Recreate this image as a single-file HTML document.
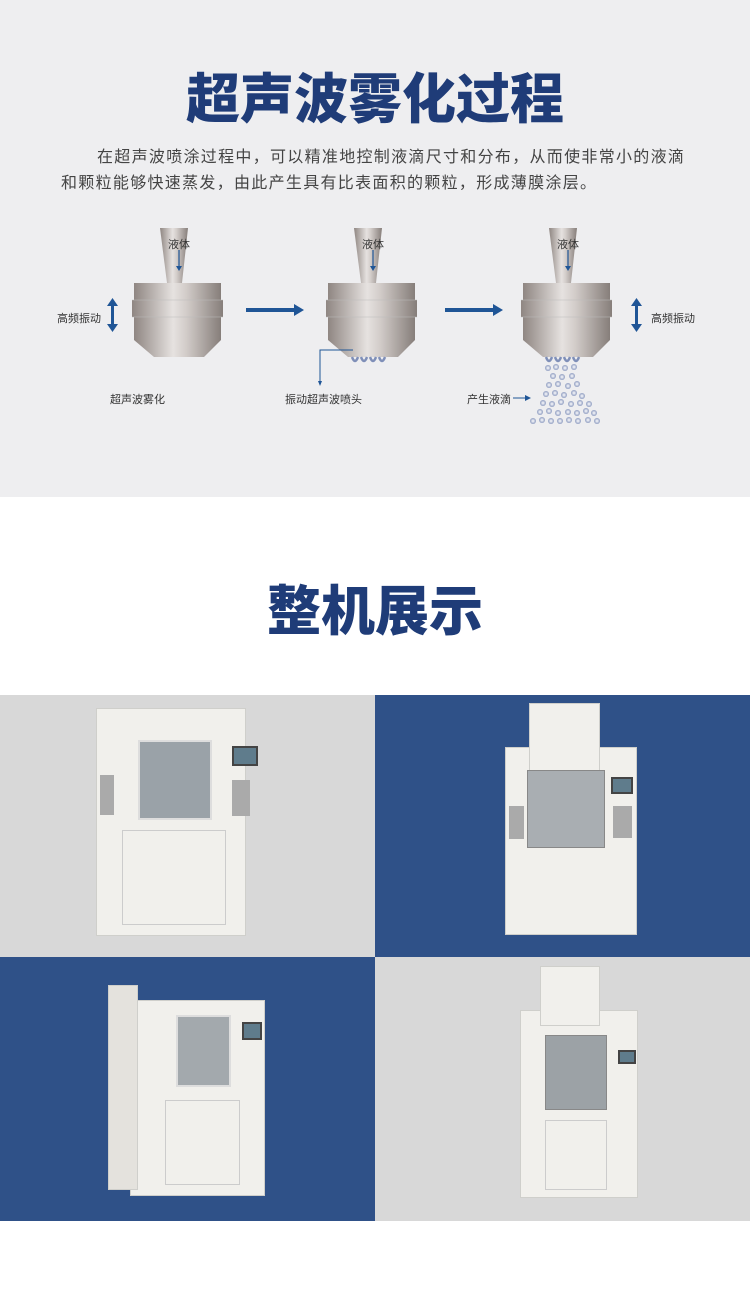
<!DOCTYPE html>
<html><head><meta charset="utf-8"><style>
*{margin:0;padding:0;box-sizing:border-box}
body{width:750px;height:1303px;position:relative;background:#fff;font-family:"Liberation Sans","Noto Sans CJK SC",sans-serif;overflow:hidden}
.a{position:absolute}
.top{left:0;top:0;width:750px;height:497px;background:#eeeef0}
h1{position:absolute;width:750px;text-align:center;color:#1f3c78;font-weight:900;font-size:54px;letter-spacing:0px;font-family:"Noto Sans CJK SC",sans-serif}
.p{left:61px;width:680px;font-size:16px;letter-spacing:1.3px;color:#444;line-height:26px;white-space:nowrap}
.lb{font-size:11px;color:#333;font-family:"Noto Sans CJK SC",sans-serif}
.m{background:#f1f0ec;border:1px solid #cfcfcb}
</style></head><body>
<div class="a top"></div>
<h1 style="top:60px;line-height:70px">超声波雾化过程</h1>
<div class="a p" style="top:145px"><span style="padding-left:36px"></span>在超声波喷涂过程中，可以精准地控制液滴尺寸和分布，从而使非常小的液滴<br>和颗粒能够快速蒸发，由此产生具有比表面积的颗粒，形成薄膜涂层。</div>

<svg class="a" style="left:0;top:220px" width="750" height="230" viewBox="0 220 750 230">
<defs>
<linearGradient id="g" x1="0" x2="1"><stop offset="0" stop-color="#8f8682"/><stop offset=".45" stop-color="#e6e2e0"/><stop offset=".6" stop-color="#d2ccc9"/><stop offset="1" stop-color="#867e7a"/></linearGradient>
<radialGradient id="d"><stop offset="0" stop-color="#fff"/><stop offset="1" stop-color="#8e9cc0"/></radialGradient>
<g id="n">
<polygon points="160,228 188,228 182,283 167,283" fill="url(#g)"/>
<rect x="134" y="283" width="87" height="57" fill="url(#g)"/>
<rect x="132" y="300" width="91" height="17" fill="url(#g)"/>
<line x1="132" y1="300" x2="223" y2="300" stroke="#bbb" stroke-width=".6"/>
<line x1="132" y1="317" x2="223" y2="317" stroke="#bbb" stroke-width=".6"/>
<polygon points="134,340 221,340 204,357 154,357" fill="url(#g)"/>
<line x1="179" y1="250" x2="179" y2="268" stroke="#1f5596" stroke-width="1.2"/>
<polygon points="176,266 182,266 179,271" fill="#1f5596"/>
</g>
</defs>
<use href="#n"/>
<use href="#n" transform="translate(194,0)"/>
<use href="#n" transform="translate(389,0)"/>
<g fill="none" stroke="#7f8fb8" stroke-width="2.5">
<path d="M352 357 q3 8 6 0 M361 357 q3 8 6 0 M370 357 q3 8 6 0 M379 357 q3 8 6 0"/>
<path d="M546 357 q3 8 6 0 M555 357 q3 8 6 0 M564 357 q3 8 6 0 M573 357 q3 8 6 0"/>
</g>
<g fill="#1f5596">
<rect x="246" y="308" width="50" height="4"/><polygon points="294,304 304,310 294,316"/>
<rect x="445" y="308" width="50" height="4"/><polygon points="493,304 503,310 493,316"/>
<rect x="111" y="305" width="3" height="20"/><polygon points="107,306 118,306 112.5,298"/><polygon points="107,324 118,324 112.5,332"/>
<rect x="635" y="305" width="3" height="20"/><polygon points="631,306 642,306 636.5,298"/><polygon points="631,324 642,324 636.5,332"/>
<polygon points="525,395 531,398 525,401"/>
</g>
<path d="M353 350 H320 V383" stroke="#1f5596" fill="none" stroke-width="1"/>
<polygon points="318,381 322,381 320,386" fill="#1f5596"/>
<line x1="513" y1="398" x2="526" y2="398" stroke="#1f5596"/>
<g fill="url(#d)">
<circle cx="548" cy="368" r="3"/><circle cx="556" cy="367" r="3"/><circle cx="565" cy="368" r="3"/><circle cx="574" cy="367" r="3"/>
<circle cx="553" cy="376" r="3"/><circle cx="562" cy="377" r="3"/><circle cx="572" cy="376" r="3"/>
<circle cx="549" cy="385" r="3"/><circle cx="558" cy="384" r="3"/><circle cx="568" cy="386" r="3"/><circle cx="577" cy="384" r="3"/>
<circle cx="546" cy="394" r="3"/><circle cx="555" cy="393" r="3"/><circle cx="564" cy="395" r="3"/><circle cx="574" cy="393" r="3"/><circle cx="582" cy="396" r="3"/>
<circle cx="543" cy="403" r="3"/><circle cx="552" cy="404" r="3"/><circle cx="561" cy="402" r="3"/><circle cx="571" cy="404" r="3"/><circle cx="580" cy="403" r="3"/><circle cx="589" cy="404" r="3"/>
<circle cx="540" cy="412" r="3"/><circle cx="549" cy="411" r="3"/><circle cx="558" cy="413" r="3"/><circle cx="568" cy="412" r="3"/><circle cx="577" cy="413" r="3"/><circle cx="586" cy="411" r="3"/><circle cx="594" cy="413" r="3"/>
<circle cx="533" cy="421" r="3"/><circle cx="542" cy="420" r="3"/><circle cx="551" cy="421" r="3"/><circle cx="560" cy="421" r="3"/><circle cx="569" cy="420" r="3"/><circle cx="578" cy="421" r="3"/><circle cx="588" cy="420" r="3"/><circle cx="597" cy="421" r="3"/>
</g>
</svg>
<div class="a lb" style="left:168px;top:236px">液体</div>
<div class="a lb" style="left:362px;top:236px">液体</div>
<div class="a lb" style="left:557px;top:236px">液体</div>
<div class="a lb" style="left:57px;top:310px">高频振动</div>
<div class="a lb" style="left:651px;top:310px">高频振动</div>
<div class="a lb" style="left:110px;top:391px">超声波雾化</div>
<div class="a lb" style="left:285px;top:391px">振动超声波喷头</div>
<div class="a lb" style="left:467px;top:391px">产生液滴</div>

<h1 style="top:572px;line-height:70px">整机展示</h1>

<div class="a" style="left:0;top:695px;width:375px;height:262px;background:#d8d8d8"></div>
<div class="a" style="left:375px;top:695px;width:375px;height:262px;background:#2f5188"></div>
<div class="a" style="left:0;top:957px;width:375px;height:264px;background:#2f5188"></div>
<div class="a" style="left:375px;top:957px;width:375px;height:264px;background:#d8d8d8"></div>

<div class="a m" style="left:96px;top:708px;width:150px;height:228px"></div>
<div class="a" style="left:138px;top:740px;width:74px;height:80px;background:#9aa2a8;border:2px solid #ddd"></div>
<div class="a" style="left:232px;top:746px;width:26px;height:20px;background:#5f7c8c;border:2px solid #444"></div>
<div class="a" style="left:122px;top:830px;width:104px;height:95px;border:1px solid #ccc"></div>
<div class="a" style="left:100px;top:775px;width:14px;height:40px;background:#aaa"></div>
<div class="a" style="left:232px;top:780px;width:18px;height:36px;background:#aaa"></div>

<div class="a m" style="left:505px;top:747px;width:132px;height:188px"></div>
<div class="a m" style="left:529px;top:703px;width:71px;height:68px"></div>
<div class="a" style="left:527px;top:770px;width:78px;height:78px;background:#a9aeb2;border:1px solid #888"></div>
<div class="a" style="left:611px;top:777px;width:22px;height:17px;background:#5f7c8c;border:2px solid #444"></div>
<div class="a" style="left:613px;top:806px;width:19px;height:32px;background:#aaa"></div>
<div class="a" style="left:509px;top:806px;width:15px;height:33px;background:#aaa"></div>

<div class="a m" style="left:130px;top:1000px;width:135px;height:196px"></div>
<div class="a m" style="left:108px;top:985px;width:30px;height:205px;background:#e4e2dd"></div>
<div class="a" style="left:176px;top:1015px;width:55px;height:72px;background:#a3a9ad;border:2px solid #ddd"></div>
<div class="a" style="left:242px;top:1022px;width:20px;height:18px;background:#5f7c8c;border:2px solid #444"></div>
<div class="a" style="left:165px;top:1100px;width:75px;height:85px;border:1px solid #ccc"></div>

<div class="a m" style="left:520px;top:1010px;width:118px;height:188px"></div>
<div class="a m" style="left:540px;top:966px;width:60px;height:60px"></div>
<div class="a" style="left:545px;top:1035px;width:62px;height:75px;background:#9ca2a6;border:1px solid #888"></div>
<div class="a" style="left:618px;top:1050px;width:18px;height:14px;background:#5f7c8c;border:2px solid #444"></div>
<div class="a" style="left:545px;top:1120px;width:62px;height:70px;border:1px solid #ccc"></div>
</body></html>
